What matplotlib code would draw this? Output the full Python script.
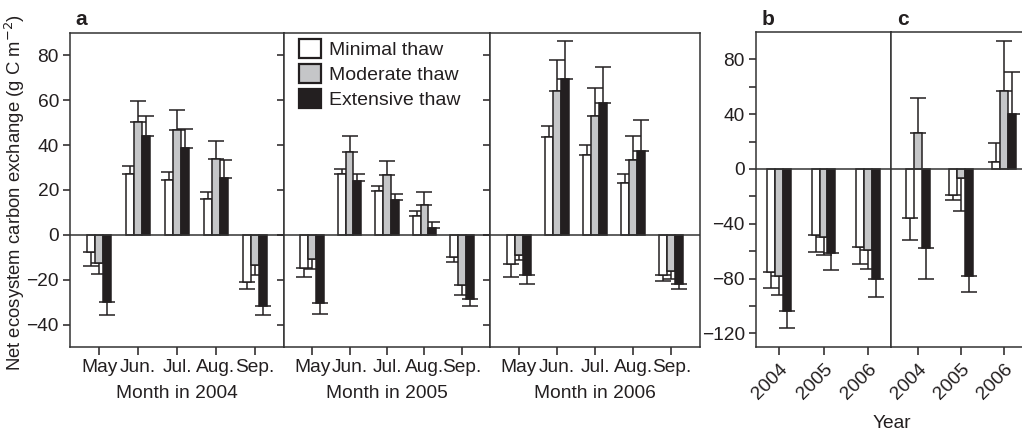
import matplotlib
matplotlib.use("Agg")
import matplotlib.pyplot as plt
import numpy as np
from matplotlib.patches import Patch

plt.rcParams['font.family'] = ['Liberation Sans', 'DejaVu Sans']
plt.rcParams['font.size'] = 13.8
plt.rcParams['text.color'] = '#231f20'
plt.rcParams['axes.labelcolor'] = '#231f20'
plt.rcParams['xtick.color'] = '#231f20'
plt.rcParams['ytick.color'] = '#231f20'

# Datos
meses = ['May', 'Jun.', 'Jul.', 'Aug.', 'Sep.']
anios_a = ['2004', '2005', '2006']
anios_bc = ['2004', '2005', '2006']
series = ['Minimal thaw', 'Moderate thaw', 'Extensive thaw']

# Panel a: valores mensuales por año (minimal, moderate, extensive)
min_2004 = [-7.7, 27.0, 24.5, 15.9, -20.9]
mod_2004 = [-12.6, 50.3, 46.8, 34.0, -13.5]
ext_2004 = [-30.1, 44.1, 38.8, 25.4, -31.9]
err_min_2004 = [6.0, 3.7, 3.7, 3.1, 3.2]
err_mod_2004 = [4.8, 9.2, 8.7, 8.0, 4.6]
err_ext_2004 = [5.5, 9.1, 8.6, 8.0, 3.7]

min_2005 = [-14.6, 27.2, 19.5, 8.6, -9.8]
mod_2005 = [-10.8, 37.1, 26.7, 13.5, -22.4]
ext_2005 = [-30.4, 24.2, 15.4, 3.0, -28.4]
err_min_2005 = [4.4, 2.3, 2.5, 2.2, 2.1]
err_mod_2005 = [4.5, 7.0, 6.4, 5.5, 4.5]
err_ext_2005 = [5.1, 3.0, 2.7, 2.6, 3.5]

min_2006 = [-13.1, 43.5, 35.5, 23.2, -17.7]
mod_2006 = [-8.9, 64.3, 52.9, 33.4, -16.3]
ext_2006 = [-17.7, 69.6, 58.6, 37.6, -21.7]
err_min_2006 = [5.5, 5.1, 4.7, 4.1, 2.8]
err_mod_2006 = [2.2, 13.5, 12.4, 10.5, 3.2]
err_ext_2006 = [4.3, 17.0, 16.1, 13.5, 2.5]

# Panel b
min_b = [-74.9, -48.0, -57.0]
mod_b = [-78.5, -49.9, -59.4]
ext_b = [-104.0, -61.1, -80.7]
err_min_b = [12.1, 12.6, 12.3]
err_mod_b = [13.4, 13.1, 13.6]
err_ext_b = [12.4, 12.4, 12.6]

# Panel c
min_c = [-35.6, -18.7, 5.1]
mod_c = [26.2, -6.5, 57.0]
ext_c = [-57.9, -77.8, 40.0]
err_min_c = [16.0, 3.8, 13.8]
err_mod_c = [25.9, 24.3, 36.1]
err_ext_c = [22.3, 12.4, 31.0]

colores = ['white', '#c5c6c8', '#231f20']
borde = '#231f20'


def barras(ax, etiquetas, valores, errores, ancho):
    """Dibuja barras agrupadas con barras de error de un solo lado."""
    x = np.arange(len(etiquetas))
    for k in range(3):
        v = np.array(valores[k])
        e = np.array(errores[k])
        pos = x + (k - 1) * ancho
        ax.bar(pos, v, ancho, color=colores[k], edgecolor=borde,
               linewidth=1.1, zorder=2)
        # error hacia afuera de la barra
        abajo = np.where(v < 0, e, 0)
        arriba = np.where(v >= 0, e, 0)
        ax.errorbar(pos, v, yerr=[abajo, arriba], fmt='none',
                    ecolor=borde, elinewidth=1.1, capsize=5.5,
                    capthick=1.1, zorder=1)
    ax.axhline(0, color='#333333', linewidth=1.1, zorder=3)
    ax.set_xticks(x)
    for s in ax.spines.values():
        s.set_color('#333333')
        s.set_linewidth(1.1)


fig = plt.figure(figsize=(10.22, 4.32), dpi=100)
W, H = 1022, 432

def caja(x0, x1, y0, y1):
    return [x0 / W, 1 - y1 / H, (x1 - x0) / W, (y1 - y0) / H]

datos_a = [
    ([min_2004, mod_2004, ext_2004], [err_min_2004, err_mod_2004, err_ext_2004]),
    ([min_2005, mod_2005, ext_2005], [err_min_2005, err_mod_2005, err_ext_2005]),
    ([min_2006, mod_2006, ext_2006], [err_min_2006, err_mod_2006, err_ext_2006]),
]
bordes_a = [(70, 284), (284, 490), (490, 700)]

menos = matplotlib.ticker.FuncFormatter(
    lambda v, p: f'{int(v)}'.replace('-', '\u2212'))

ejes_a = []
for i, (vals, errs) in enumerate(datos_a):
    ax = fig.add_axes(caja(bordes_a[i][0], bordes_a[i][1], 33, 347))
    barras(ax, meses, vals, errs, 0.21)
    ax.set_xlim(-0.75, 4.75)
    ax.set_ylim(-50, 90)
    ax.set_yticks([-40, -20, 0, 20, 40, 60, 80])
    ax.set_xticklabels(meses)
    ax.tick_params(axis='both', direction='out', length=5, width=1.1, pad=3)
    ax.tick_params(axis='x', length=6, pad=3)
    ax.set_xlabel('Month in ' + anios_a[i], labelpad=6)
    if i > 0:
        ax.tick_params(axis='y', labelleft=False)
    ax.yaxis.set_major_formatter(menos)
    ejes_a.append(ax)

fig.text(15 / W, 1 - 193 / H, 'Net ecosystem carbon exchange (g C m$^{-2}$)',
         rotation=90, ha='center', va='center', fontsize=13.3)

handles = [Patch(facecolor=colores[k], edgecolor=borde, linewidth=1.6)
           for k in range(3)]
ejes_a[1].legend(handles, series, loc='upper left',
                 bbox_to_anchor=(0.072, 0.982), frameon=False, borderpad=0,
                 borderaxespad=0, handlelength=1.15, handleheight=1.15,
                 handletextpad=0.4, labelspacing=0.25, fontsize=14)

# Paneles b y c
ax_b = fig.add_axes(caja(756, 891, 32, 347))
barras(ax_b, anios_bc, [min_b, mod_b, ext_b], [err_min_b, err_mod_b, err_ext_b], 0.18)
ax_b.set_xlim(-0.52, 2.52)

ax_c = fig.add_axes(caja(891, 1031, 32, 347))
barras(ax_c, anios_bc, [min_c, mod_c, ext_c], [err_min_c, err_mod_c, err_ext_c], 0.186)
ax_c.set_xlim(-0.64, 2.64)

for ax in (ax_b, ax_c):
    ax.set_ylim(-130, 100)
    ax.set_xticklabels(anios_bc, rotation=45, ha='right', rotation_mode='anchor')
    ax.tick_params(axis='x', direction='out', length=6, width=1.1, pad=4)
ax_b.set_yticks([-120, -80, -40, 0, 40, 80])
ax_b.set_yticks([-100, -60, -20, 20, 60], minor=True)
ax_b.yaxis.set_major_formatter(menos)
ax_b.tick_params(axis='y', which='both', direction='out', length=5, width=1.1, pad=3)
ax_c.set_yticks([])

fig.text(892 / W, 1 - 423 / H, 'Year', ha='center', va='center')

fig.text(75 / W, 1 - 25 / H, 'a', fontweight='bold', fontsize=15)
fig.text(762 / W, 1 - 25 / H, 'b', fontweight='bold', fontsize=15)
fig.text(897 / W, 1 - 25 / H, 'c', fontweight='bold', fontsize=15)

fig.savefig('out.png', dpi=100)
